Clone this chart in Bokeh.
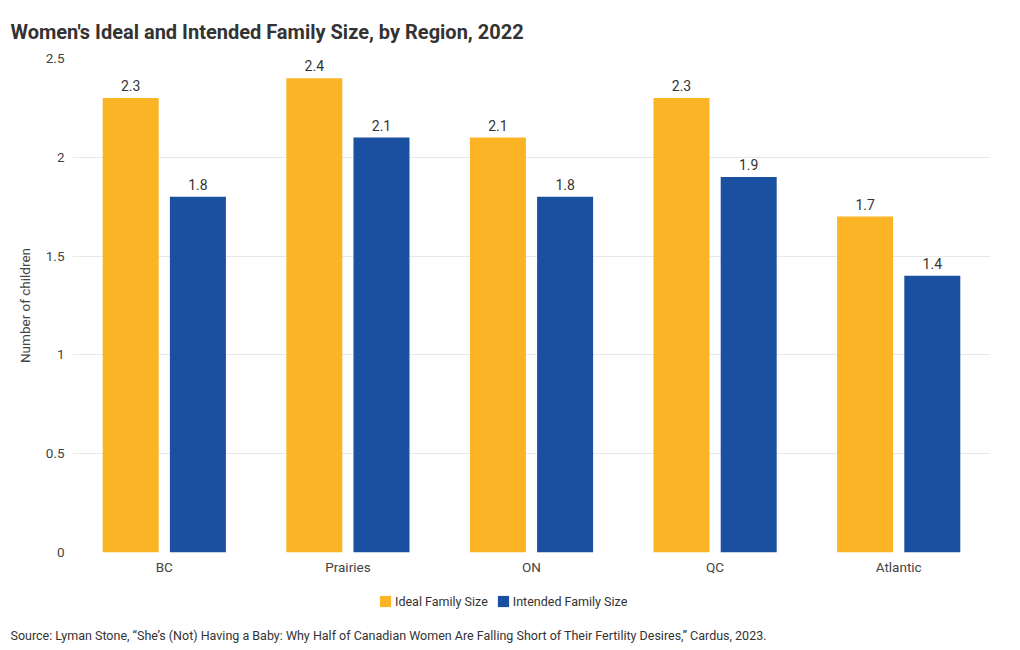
from bokeh.plotting import figure
from bokeh.models import ColumnDataSource, FactorRange, Range1d, FixedTicker, Legend, LegendItem, Title, LabelSet
from bokeh.core.properties import value
from bokeh.layouts import column
from bokeh.transform import dodge
from bokeh.embed import file_html
from bokeh.resources import INLINE

regions = ["BC", "Prairies", "ON", "QC", "Atlantic"]
ideal = [2.3, 2.4, 2.1, 2.3, 1.7]
intended = [1.8, 2.1, 1.8, 1.9, 1.4]
series_names = ["Ideal Family Size", "Intended Family Size"]
y_ticks = [0, 0.5, 1, 1.5, 2, 2.5]
y_tick_labels = ["0", "0.5", "1", "1.5", "2", "2.5"]
title_text = "Women's Ideal and Intended Family Size, by Region, 2022"
source_text = "Source: Lyman Stone, \u201cShe\u2019s (Not) Having a Baby: Why Half of Canadian Women Are Falling Short of Their Fertility Desires,\u201d Cardus, 2023."

FONT = "Roboto"
YELLOW = "#FBB426"
BLUE = "#1B4F9F"
TXT = "#333333"

src = ColumnDataSource(dict(
    region=regions, ideal=ideal, intended=intended,
    ideal_lbl=[f"{v:g}" for v in ideal], intended_lbl=[f"{v:g}" for v in intended],
))

p = figure(x_range=FactorRange(*regions), y_range=Range1d(0, 2.5),
           width=1020, height=580, output_backend="svg", toolbar_location=None,
           min_border_left=72, min_border_right=30, min_border_top=58, min_border_bottom=28)

p.title.text = title_text
p.title.text_font = FONT
p.title.text_font_size = "20px"
p.title.text_font_style = "bold"
p.title.text_color = TXT
p.title.align = "left"
p.title.vertical_align = "top"
p.title.offset = -62
p.title.standoff = 26

off = 0.183
w = 0.305
r1 = p.vbar(x=dodge("region", -off, range=p.x_range), top="ideal", width=w, source=src,
            fill_color=YELLOW, line_color=None)
r2 = p.vbar(x=dodge("region", off, range=p.x_range), top="intended", width=w, source=src,
            fill_color=BLUE, line_color=None)

for xo, col in [(-off, "ideal"), (off, "intended")]:
    ls = LabelSet(x=dodge("region", xo, range=p.x_range), y=col, text=col + "_lbl", source=src,
                  text_align="center", text_baseline="bottom", y_offset=7,
                  text_font=value(FONT), text_font_size=value("14px"), text_color=TXT)
    p.add_layout(ls)

p.outline_line_color = None
p.xgrid.grid_line_color = None
p.ygrid.grid_line_color = "#e8e8e8"
p.ygrid.ticker = FixedTicker(ticks=y_ticks)

p.yaxis.ticker = FixedTicker(ticks=y_ticks)
p.yaxis.major_label_overrides = {t: l for t, l in zip(y_ticks, y_tick_labels)}
p.yaxis.axis_label = "Number of children"
p.yaxis.axis_label_text_font = FONT
p.yaxis.axis_label_text_font_style = "normal"
p.yaxis.axis_label_text_font_size = "13.5px"
p.yaxis.axis_label_text_color = "#444444"
p.yaxis.axis_label_standoff = 10
for ax in (p.xaxis, p.yaxis):
    ax.axis_line_color = None
    ax.major_tick_line_color = None
    ax.minor_tick_line_color = None
    ax.major_tick_out = 0
    ax.major_tick_in = 0
    ax.minor_tick_out = 0
    ax.major_label_text_font = FONT
    ax.major_label_text_font_size = "13.5px"
    ax.major_label_text_color = "#444444"
p.xaxis.major_label_standoff = 6
p.yaxis.major_label_standoff = 8

# footer: legend and source (frame of this plot is aligned with the main plot's frame)
p2 = figure(x_range=Range1d(0, 1), y_range=Range1d(0, 1), width=1020, height=70,
            output_backend="svg", toolbar_location=None,
            min_border_left=0, min_border_right=0, min_border_top=0, min_border_bottom=26)
p2.axis.visible = False
p2.grid.visible = False
p2.outline_line_color = None
# zero-size swatch renderers for the legend
d1 = p2.vbar(x=[-5], top=[0], bottom=[0], width=0, fill_color=YELLOW, line_color=None)
d2 = p2.vbar(x=[-5], top=[0], bottom=[0], width=0, fill_color=BLUE, line_color=None)

st = Title(text=source_text, text_font=FONT, text_font_size="12.5px", text_font_style="normal",
           text_color=TXT, align="left", offset=-62, standoff=2)
p2.add_layout(st, "below")

legend = Legend(items=[LegendItem(label=series_names[0], renderers=[d1], index=0),
                       LegendItem(label=series_names[1], renderers=[d2], index=0)],
                orientation="horizontal", location=(306, 15),
                label_text_font=FONT, label_text_font_size="12.5px", label_text_color=TXT,
                glyph_width=14, glyph_height=14, label_standoff=3, spacing=8,
                border_line_color=None, background_fill_alpha=0, margin=0, padding=2,
                label_height=16)
p2.add_layout(legend, "center")

layout = column(p, p2, spacing=0)
open("out.html", "w").write(file_html(layout, INLINE))
